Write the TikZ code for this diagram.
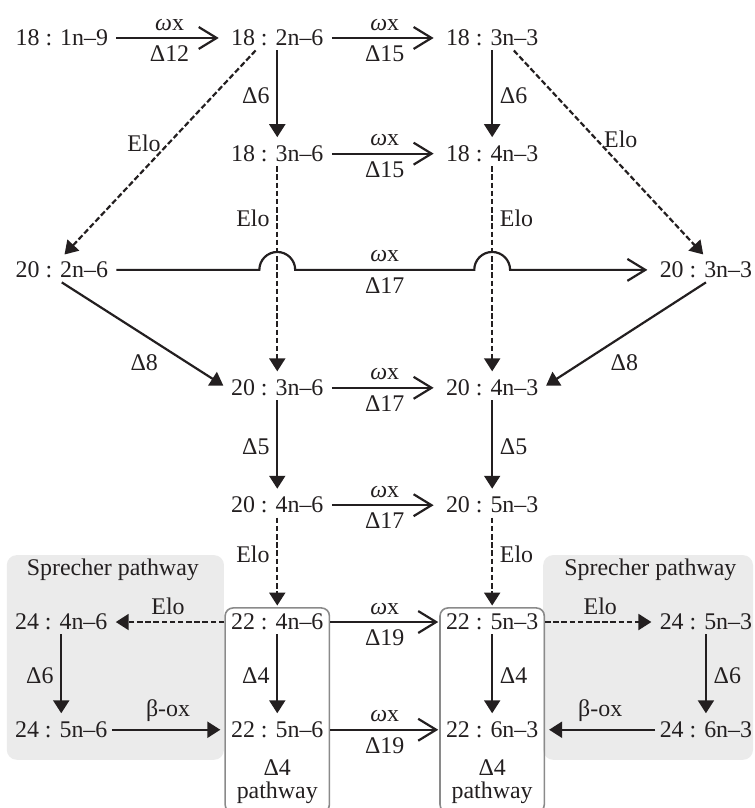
\documentclass[tikz,border=0pt]{standalone}
\usepackage{fontspec}
\setmainfont{Liberation Serif}
\usetikzlibrary{arrows.meta,fit}
\definecolor{ink}{HTML}{231F20}
\definecolor{panelgray}{HTML}{EBEBEB}
\definecolor{boxgray}{HTML}{8A8A8A}
\newcommand\wx{\textit{ω}x}

\begin{document}
\begin{tikzpicture}[
  x=1cm,
  y=1cm,
  font=\fontsize{12}{14}\selectfont,
  every node/.style={text=ink},
  acid/.style={inner sep=2pt},
  omega/.style={
    draw=ink,
    line width=1.1pt,
    shorten <=2pt,
    shorten >=4pt,
    -{Straight Barb[length=9pt,width=11pt]}
  },
  desat/.style={
    draw=ink,
    line width=1.1pt,
    shorten >=2pt,
    -{Triangle[length=6.5pt,width=8pt]}
  },
  elong/.style={desat, dash pattern=on 2.8pt off 1.3pt},
  sprecher/.style={fill=panelgray, rounded corners=5pt},
  dfour/.style={draw=boxgray, line width=0.8pt, rounded corners=4pt, inner sep=0.8pt},
  note/.style={align=center, font=\fontsize{12}{11.5}\selectfont}
]
\useasboundingbox (0,0) rectangle (13.30,14.25);

% shaded Sprecher panels
\fill[sprecher] (0.12,0.85) rectangle (3.95,4.46);
\fill[sprecher] (9.58,0.85) rectangle (13.28,4.46);
\node (spl) at (1.99,4.20) {Sprecher pathway};
\node (spr) at (11.47,4.20) {Sprecher pathway};

% fatty acids
\node[acid] (n18a) at (1.09,13.58) {18 : 1n–9};
\node[acid] (n18b) at (4.89,13.58) {18 : 2n–6};
\node[acid] (n18c) at (8.68,13.58) {18 : 3n–3};
\node[acid] (n18d) at (4.89,11.54) {18 : 3n–6};
\node[acid] (n18e) at (8.68,11.54) {18 : 4n–3};
\node[acid] (n20a) at (1.09,9.49) {20 : 2n–6};
\node[acid] (n20b) at (12.45,9.49) {20 : 3n–3};
\node[acid] (n20c) at (4.89,7.41) {20 : 3n–6};
\node[acid] (n20d) at (8.68,7.41) {20 : 4n–3};
\node[acid] (n20e) at (4.89,5.34) {20 : 4n–6};
\node[acid] (n20f) at (8.68,5.34) {20 : 5n–3};
\node[acid] (n24a) at (1.08,3.28) {24 : 4n–6};
\node[acid] (n22a) at (4.89,3.28) {22 : 4n–6};
\node[acid] (n22b) at (8.68,3.28) {22 : 5n–3};
\node[acid] (n24c) at (12.45,3.28) {24 : 5n–3};
\node[acid] (n24b) at (1.08,1.38) {24 : 5n–6};
\node[acid] (n22c) at (4.89,1.38) {22 : 5n–6};
\node[acid] (n22d) at (8.68,1.38) {22 : 6n–3};
\node[acid] (n24d) at (12.45,1.38) {24 : 6n–3};

% delta-4 pathway boxes
\node[note] (p22c) at (4.89,0.46) {Δ4\\pathway};
\node[note] (p22d) at (8.68,0.46) {Δ4\\pathway};
\node[dfour, fit=(n22a)(n22c)(p22c)] (box22c) {};
\node[dfour, fit=(n22b)(n22d)(p22d)] (box22d) {};

% omega-x / desaturase steps across
\draw[omega] (n18a) -- node[above]{\wx} node[below]{Δ12} (n18b);
\draw[omega] (n18b) -- node[above]{\wx} node[below]{Δ15} (n18c);
\draw[omega] (n18d) -- node[above]{\wx} node[below]{Δ15} (n18e);
\draw[omega] (n20a) -- ([xshift=-9pt]n18d |- n20a)
  arc[start angle=180, end angle=0, radius=9pt]
  -- node[above]{\wx} node[below]{Δ17} ([xshift=-9pt]n18e |- n20a)
  arc[start angle=180, end angle=0, radius=9pt] -- (n20b);
\draw[omega] (n20c) -- node[above]{\wx} node[below]{Δ17} (n20d);
\draw[omega] (n20e) -- node[above]{\wx} node[below]{Δ17} (n20f);
\draw[omega, shorten <=0pt, shorten >=0.5pt] (box22c.east |- n22a) -- node[above]{\wx} node[below]{Δ19} (box22d.west |- n22b);
\draw[omega, shorten <=0pt, shorten >=0.5pt] (box22c.east |- n22c) -- node[above]{\wx} node[below]{Δ19} (box22d.west |- n22d);

% steps down
\draw[desat] (n18b) -- node[left]{Δ6} (n18d);
\draw[desat] (n18c) -- node[right]{Δ6} (n18e);
\draw[elong] (n18d) -- node[left, pos=0.25]{Elo} (n20c);
\draw[elong] (n18e) -- node[right, pos=0.25]{Elo} (n20d);
\draw[desat] (n20c) -- node[left]{Δ5} (n20e);
\draw[desat] (n20d) -- node[right]{Δ5} (n20f);
\draw[elong] (n20e) -- node[left, pos=0.4]{Elo} (n22a);
\draw[elong] (n20f) -- node[right, pos=0.4]{Elo} (n22b);
\draw[desat] (n22a) -- node[left]{Δ4} (n22c);
\draw[desat] (n22b) -- node[right]{Δ4} (n22d);

% diagonals
\draw[elong] (n18b.210) -- node[left, pos=0.45]{Elo} (n20a.north);
\draw[elong] (n18c.330) -- node[right, pos=0.43]{Elo} (n20b.north);
\draw[desat] (n20a.south) -- node[below=6pt]{Δ8} (n20c.west);
\draw[desat] (n20b.south) -- node[below=6pt]{Δ8} (n20d.east);

% Sprecher side routes
\draw[elong] (box22c.west |- n22a) -- node[above]{Elo} (n24a);
\draw[elong] (box22d.east |- n22b) -- node[above]{Elo} (n24c);
\draw[desat] (n24a) -- node[left]{Δ6} (n24b);
\draw[desat] (n24c) -- node[right]{Δ6} (n24d);
\draw[desat] (n24b) -- node[above]{β-ox} (box22c.west |- n22c);
\draw[desat] (n24d) -- node[above]{β-ox} (box22d.east |- n22d);

\end{tikzpicture}
\end{document}
